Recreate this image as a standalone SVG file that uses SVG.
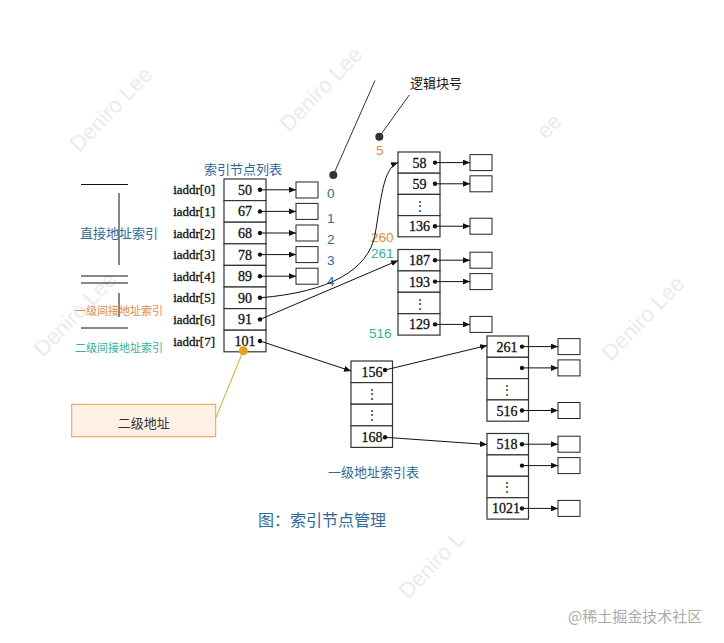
<svg xmlns="http://www.w3.org/2000/svg" width="724" height="643" viewBox="0 0 724 643">
<defs>
<marker id="ah" markerUnits="userSpaceOnUse" markerWidth="7" markerHeight="6" refX="7" refY="3" orient="auto">
<path d="M0,0 L7,3 L0,6 z" fill="#111"/>
</marker>
<style>
.cell{fill:#fff;stroke:#333;stroke-width:1.2}
.box{fill:#fff;stroke:#222;stroke-width:1}
.num{font-family:"Liberation Serif","DejaVu Serif",serif;font-size:14px;fill:#111;stroke:#111;stroke-width:0.3;text-anchor:middle}
.vd{font-family:"DejaVu Serif",serif;font-size:12px;fill:#111;text-anchor:middle}
.lab{font-family:"Liberation Serif",serif;font-size:13px;fill:#111;stroke:#111;stroke-width:0.3;text-anchor:end}
.dot{fill:#111}
.ln{stroke:#111;stroke-width:1;fill:none}
.arr{stroke:#111;stroke-width:1;fill:none;marker-end:url(#ah)}
.cn{font-family:"Noto Sans CJK SC",sans-serif}
.blue{fill:#2d6a9c}
.orange{fill:#e58a3c}
.teal{fill:#2fb39a}
.sn{font-family:"Liberation Sans","Noto Sans CJK SC",sans-serif;font-size:13.5px}
.wm{font-family:"Liberation Sans",sans-serif;font-size:22px;fill:#ebebeb}
</style>
</defs>
<rect width="724" height="643" fill="#fff"/>

<g id="watermarks">
<text class="wm" transform="translate(79,153) rotate(-46)">Deniro Lee</text>
<text class="wm" transform="translate(289,133) rotate(-46)">Deniro Lee</text>
<text class="wm" transform="translate(546,140) rotate(-46)">ee</text>
<text class="wm" transform="translate(611,362) rotate(-46)">Deniro Lee</text>
<text class="wm" transform="translate(43,358) rotate(-46)">Deniro Lee</text>
<text class="wm" transform="translate(408,600) rotate(-46)">Deniro L</text>
</g>

<g id="legend">
<line class="ln" x1="81" y1="184.5" x2="128" y2="184.5"/>
<line class="ln" x1="119" y1="193" x2="119" y2="265"/>
<line class="ln" x1="81" y1="276" x2="128" y2="276"/>
<line class="ln" x1="81" y1="283" x2="128" y2="283"/>
<line class="ln" x1="119" y1="293" x2="119" y2="317"/>
<line class="ln" x1="81" y1="328" x2="128" y2="328"/>
<text class="cn blue" x="80" y="237.5" font-size="13">直接地址索引</text>
<text class="cn orange" x="75" y="315" font-size="11">一级间接地址索引</text>
<text class="cn teal" x="75" y="352" font-size="11">二级间接地址索引</text>
</g>

<g id="inode-table">
<text class="cn blue" x="204" y="173.5" font-size="13">索引节点列表</text>
<rect class="cell" x="224" y="179" width="42" height="21.6"/>
<rect class="cell" x="224" y="200.6" width="42" height="21.6"/>
<rect class="cell" x="224" y="222.2" width="42" height="21.6"/>
<rect class="cell" x="224" y="243.8" width="42" height="21.6"/>
<rect class="cell" x="224" y="265.4" width="42" height="21.6"/>
<rect class="cell" x="224" y="287" width="42" height="21.6"/>
<rect class="cell" x="224" y="308.6" width="42" height="21.6"/>
<rect class="cell" x="224" y="330.2" width="42" height="21.6"/>
<text class="lab" x="215" y="194.3">iaddr[0]</text>
<text class="lab" x="215" y="215.9">iaddr[1]</text>
<text class="lab" x="215" y="237.5">iaddr[2]</text>
<text class="lab" x="215" y="259.1">iaddr[3]</text>
<text class="lab" x="215" y="280.7">iaddr[4]</text>
<text class="lab" x="215" y="302.3">iaddr[5]</text>
<text class="lab" x="215" y="323.9">iaddr[6]</text>
<text class="lab" x="215" y="345.5">iaddr[7]</text>
<text class="num" x="245" y="194.8">50</text>
<text class="num" x="245" y="216.4">67</text>
<text class="num" x="245" y="238">68</text>
<text class="num" x="245" y="259.6">78</text>
<text class="num" x="245" y="281.2">89</text>
<text class="num" x="245" y="302.8">90</text>
<text class="num" x="245" y="324.4">91</text>
<text class="num" x="245" y="346">101</text>
<circle class="dot" cx="260" cy="189.8" r="2.2"/>
<circle class="dot" cx="260" cy="211.4" r="2.2"/>
<circle class="dot" cx="260" cy="233" r="2.2"/>
<circle class="dot" cx="260" cy="254.6" r="2.2"/>
<circle class="dot" cx="260" cy="276.2" r="2.2"/>
<circle class="dot" cx="260" cy="297.8" r="2.2"/>
<circle class="dot" cx="260" cy="319.4" r="2.2"/>
<circle class="dot" cx="260" cy="341" r="2.2"/>
</g>

<g id="direct-blocks">
<rect class="box" x="296" y="182" width="22" height="16"/>
<rect class="box" x="296" y="203.4" width="22" height="16"/>
<rect class="box" x="296" y="225" width="22" height="16"/>
<rect class="box" x="296" y="246.6" width="22" height="16"/>
<rect class="box" x="296" y="268.2" width="22" height="16"/>
<text class="sn blue" x="327" y="197.5">0</text>
<text class="sn blue" x="327" y="223">1</text>
<text class="sn blue" x="327" y="244">2</text>
<text class="sn blue" x="327" y="265">3</text>
<text class="sn blue" x="327" y="286">4</text>
</g>

<g id="logic-label">
<text class="cn" x="410" y="87.5" font-size="13" fill="#111">逻辑块号</text>
<line x1="375" y1="80.5" x2="333.3" y2="175" stroke="#333" stroke-width="1"/>
<circle cx="333.3" cy="175" r="4" fill="#333"/>
<line x1="409.3" y1="95" x2="379.3" y2="136.7" stroke="#333" stroke-width="1"/>
<circle cx="379.3" cy="136.7" r="4" fill="#333"/>
<text class="sn orange" x="376" y="155">5</text>
<text class="sn orange" x="371" y="241.5">260</text>
<text class="sn teal" x="371" y="258">261</text>
<text class="sn teal" x="369" y="337.5">516</text>
</g>

<g id="table-a">
<rect class="cell" x="398" y="152" width="42" height="21.2"/>
<rect class="cell" x="398" y="173.2" width="42" height="21.2"/>
<rect class="cell" x="398" y="194.4" width="42" height="21.2"/>
<rect class="cell" x="398" y="215.6" width="42" height="21.2"/>
<text class="num" x="419.5" y="167.6">58</text>
<text class="num" x="419.5" y="188.8">59</text>
<text class="vd" x="419.5" y="209.5">⋮</text>
<text class="num" x="419.5" y="231.2">136</text>
<circle class="dot" cx="435" cy="162.6" r="2.2"/>
<circle class="dot" cx="435" cy="183.8" r="2.2"/>
<circle class="dot" cx="435" cy="226.2" r="2.2"/>
<rect class="box" x="470" y="154.6" width="22" height="16"/>
<rect class="box" x="470" y="175.8" width="22" height="16"/>
<rect class="box" x="470" y="218.2" width="22" height="16"/>
</g>

<g id="table-b">
<rect class="cell" x="398" y="249.5" width="42" height="21.4"/>
<rect class="cell" x="398" y="270.9" width="42" height="21.4"/>
<rect class="cell" x="398" y="292.3" width="42" height="21.4"/>
<rect class="cell" x="398" y="313.7" width="42" height="21.4"/>
<text class="num" x="419.5" y="265.2">187</text>
<text class="num" x="419.5" y="286.6">193</text>
<text class="vd" x="419.5" y="307.5">⋮</text>
<text class="num" x="419.5" y="329.4">129</text>
<circle class="dot" cx="435" cy="260.2" r="2.2"/>
<circle class="dot" cx="435" cy="281.6" r="2.2"/>
<circle class="dot" cx="435" cy="324.4" r="2.2"/>
<rect class="box" x="470" y="252.2" width="22" height="16"/>
<rect class="box" x="470" y="273.6" width="22" height="16"/>
<rect class="box" x="470" y="316.4" width="22" height="16"/>
</g>

<g id="table-c">
<rect class="cell" x="351" y="361" width="41.5" height="21.6"/>
<rect class="cell" x="351" y="382.6" width="41.5" height="21.6"/>
<rect class="cell" x="351" y="404.2" width="41.5" height="21.6"/>
<rect class="cell" x="351" y="425.8" width="41.5" height="21.6"/>
<text class="num" x="372" y="376.8">156</text>
<text class="vd" x="372" y="397.5">⋮</text>
<text class="vd" x="372" y="419">⋮</text>
<text class="num" x="372" y="441.6">168</text>
<circle class="dot" cx="385" cy="370" r="2.2"/>
<circle class="dot" cx="385" cy="437.3" r="2.2"/>
<text class="cn blue" x="328" y="476.5" font-size="13">一级地址索引表</text>
</g>

<g id="table-d">
<rect class="cell" x="487" y="336" width="41.5" height="21.3"/>
<rect class="cell" x="487" y="357.3" width="41.5" height="21.3"/>
<rect class="cell" x="487" y="378.6" width="41.5" height="21.3"/>
<rect class="cell" x="487" y="399.9" width="41.5" height="21.3"/>
<text class="num" x="507" y="351.6">261</text>
<text class="vd" x="507" y="393.5">⋮</text>
<text class="num" x="507" y="415.5">516</text>
<circle class="dot" cx="522" cy="346.6" r="2.2"/>
<circle class="dot" cx="522" cy="367.9" r="2.2"/>
<circle class="dot" cx="522" cy="410.5" r="2.2"/>
<rect class="box" x="558" y="338.6" width="22" height="16"/>
<rect class="box" x="558" y="359.9" width="22" height="16"/>
<rect class="box" x="558" y="402.5" width="22" height="16"/>
</g>

<g id="table-e">
<rect class="cell" x="487" y="433.5" width="41.5" height="21.4"/>
<rect class="cell" x="487" y="454.9" width="41.5" height="21.4"/>
<rect class="cell" x="487" y="476.3" width="41.5" height="21.4"/>
<rect class="cell" x="487" y="497.7" width="41.5" height="21.4"/>
<text class="num" x="507" y="449.3">518</text>
<text class="vd" x="507" y="491.2">⋮</text>
<text class="num" x="506" y="513.3">1021</text>
<circle class="dot" cx="522" cy="444.2" r="2.2"/>
<circle class="dot" cx="522" cy="465.6" r="2.2"/>
<circle class="dot" cx="522" cy="508.4" r="2.2"/>
<rect class="box" x="558" y="436.2" width="22" height="16"/>
<rect class="box" x="558" y="457.6" width="22" height="16"/>
<rect class="box" x="558" y="500.4" width="22" height="16"/>
</g>

<g id="callout">
<rect x="71.7" y="404.3" width="144" height="32.4" fill="#fdf1e6" stroke="#e2a341" stroke-width="1"/>
<text class="cn" x="143.8" y="427.8" font-size="13" fill="#333" text-anchor="middle">二级地址</text>
<line x1="215.7" y1="418" x2="243.3" y2="350.7" stroke="#e6a118" stroke-width="1"/>
<circle cx="243.3" cy="350.7" r="4.5" fill="#e6a118"/>
</g>

<g id="connectors">
<line class="arr" x1="262" y1="189.8" x2="296" y2="189.8"/>
<line class="arr" x1="262" y1="211.4" x2="296" y2="211.4"/>
<line class="arr" x1="262" y1="233" x2="296" y2="233"/>
<line class="arr" x1="262" y1="254.6" x2="296" y2="254.6"/>
<line class="arr" x1="262" y1="276.2" x2="296" y2="276.2"/>
<path class="arr" d="M260,297.8 C330,292 368,270 375,235 C381,200 383,168 398,162.6"/>
<line class="arr" x1="260" y1="319.4" x2="398" y2="260.5"/>
<line class="arr" x1="260" y1="341" x2="351" y2="371"/>
<line class="arr" x1="437" y1="162.6" x2="470" y2="162.6"/>
<line class="arr" x1="437" y1="183.8" x2="470" y2="183.8"/>
<line class="arr" x1="437" y1="226.2" x2="470" y2="226.2"/>
<line class="arr" x1="437" y1="260.2" x2="470" y2="260.2"/>
<line class="arr" x1="437" y1="281.6" x2="470" y2="281.6"/>
<line class="arr" x1="437" y1="324.4" x2="470" y2="324.4"/>
<line class="arr" x1="385" y1="370" x2="487" y2="345.5"/>
<line class="arr" x1="385" y1="437.3" x2="487" y2="444.5"/>
<line class="arr" x1="524" y1="346.6" x2="558" y2="346.6"/>
<line class="arr" x1="524" y1="367.9" x2="558" y2="367.9"/>
<line class="arr" x1="524" y1="410.5" x2="558" y2="410.5"/>
<line class="arr" x1="524" y1="444.2" x2="558" y2="444.2"/>
<line class="arr" x1="524" y1="465.6" x2="558" y2="465.6"/>
<line class="arr" x1="524" y1="508.4" x2="558" y2="508.4"/>
</g>

<g id="caption">
<text class="cn blue" x="258" y="525.5" font-size="16">图：索引节点管理</text>
<text class="cn" x="568" y="622" font-size="15" fill="#ababab">@稀土掘金技术社区</text>
</g>
</svg>
